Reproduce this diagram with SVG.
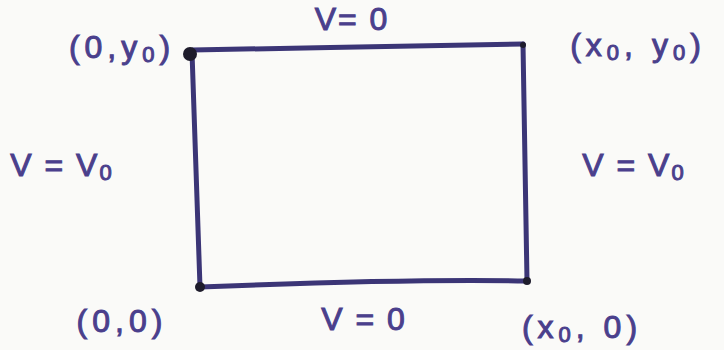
<svg xmlns="http://www.w3.org/2000/svg" width="724" height="350" viewBox="0 0 724 350">
<style>
.t{font-family:"Liberation Sans",Arial,sans-serif;font-size:32px;fill:#4a3f8c;stroke:#4a3f8c;stroke-width:1;letter-spacing:2px}
.w{letter-spacing:5px}
.s{font-size:22px}
.e{fill:none;stroke:#3b3576;stroke-width:5;stroke-linecap:round}
.d{fill:#1e1c2c}
</style>
<rect width="724" height="350" fill="#fafaf8"/>
<g id="connectors">
<path class="e" d="M192 50 C300 48 420 46 523 44"/>
<path class="e" d="M523 44 L527 281"/>
<path class="e" d="M200 287 C300 283 420 279 527 281"/>
<path class="e" d="M192 52 L200 287"/>
</g>
<g id="top-edge-label"><text class="t" x="352" y="30" text-anchor="middle">V= 0</text></g>
<g id="left-edge-label"><text class="t" x="62" y="176" text-anchor="middle">V = V<tspan class="s" dy="4">0</tspan></text></g>
<g id="right-edge-label"><text class="t" x="634" y="176" text-anchor="middle">V = V<tspan class="s" dy="4">0</tspan></text></g>
<g id="bottom-edge-label"><text class="t" x="364" y="330" text-anchor="middle">V = 0</text></g>
<g id="corner-top-left"><circle class="d" cx="190" cy="54" r="7"/><text class="t w" x="122" y="58" text-anchor="middle">(0,y<tspan class="s" dy="4">0</tspan><tspan dy="-4">)</tspan></text></g>
<g id="corner-top-right"><circle class="d" cx="523" cy="45" r="3"/><text class="t w" x="638" y="56" text-anchor="middle">(x<tspan class="s" dy="4">0</tspan><tspan dy="-4">, y</tspan><tspan class="s" dy="4">0</tspan><tspan dy="-4">)</tspan></text></g>
<g id="corner-bottom-left"><circle class="d" cx="200" cy="287" r="5"/><text class="t w" x="122" y="332" text-anchor="middle">(0,0)</text></g>
<g id="corner-bottom-right"><circle class="d" cx="527" cy="281" r="4"/><text class="t w" x="582" y="338" text-anchor="middle">(x<tspan class="s" dy="4">0</tspan><tspan dy="-4">, 0)</tspan></text></g>
</svg>
